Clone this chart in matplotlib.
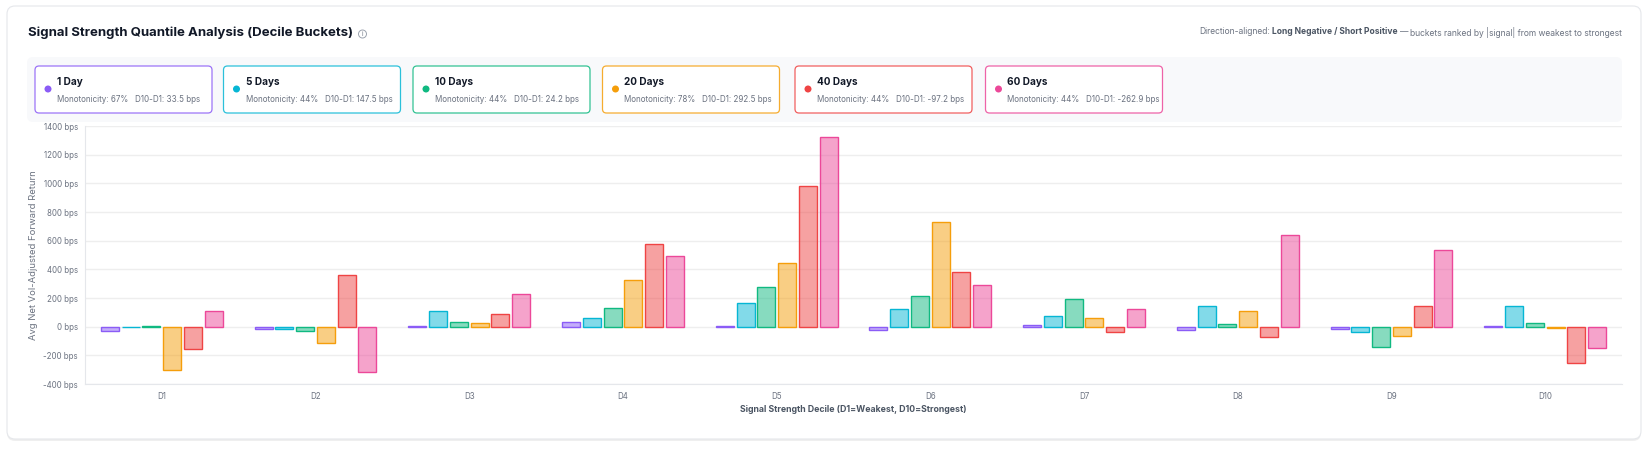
import numpy as np
import matplotlib
matplotlib.use("Agg")
import matplotlib.pyplot as plt
from matplotlib.patches import FancyBboxPatch, Circle
from matplotlib.colors import to_rgba

plt.rcParams['font.family'] = ['Inter', 'DejaVu Sans']

# data (bps)
deciles = ['D1', 'D2', 'D3', 'D4', 'D5', 'D6', 'D7', 'D8', 'D9', 'D10']
horizons = ['1 Day', '5 Days', '10 Days', '20 Days', '40 Days', '60 Days']
colors = ['#8b5cf6', '#06b6d4', '#10b981', '#f59e0b', '#ef4444', '#ec4899']
monotonicity = [67, 44, 44, 78, 44, 44]
spread = [33.5, 147.5, 24.2, 292.5, -97.2, -262.9]

ret_1d = [-28, -19, 2, 35, 3, -26, 12, -26, -19, 5]
ret_5d = [-1, -16, 112, 63, 167, 123, 77, 147, -35, 147]
ret_10d = [4, -33, 33, 133, 274, 216, 195, 16, -140, 28]
ret_20d = [-304, -112, 28, 328, 444, 730, 63, 112, -67, -12]
ret_40d = [-153, 363, 91, 575, 982, 379, -35, -72, 147, -250]
ret_60d = [109, -316, 230, 495, 1326, 291, 123, 642, 535, -151]
series = [ret_1d, ret_5d, ret_10d, ret_20d, ret_40d, ret_60d]

W, H = 1644, 450
fig = plt.figure(figsize=(W / 100, H / 100), dpi=100)
tr = fig.dpi_scale_trans


def P(x, y):
    # pixel (from top-left) -> inches
    return x / 100, (H - y) / 100


# card + shadow
shadow = FancyBboxPatch(P(7, 441), (1641 - 7) / 100, (441 - 8) / 100,
                        boxstyle="round,pad=0,rounding_size=0.08",
                        fc='#00000010', ec='none', transform=tr, zorder=-3)
card = FancyBboxPatch(P(7, 439), (1641 - 7) / 100, (439 - 6) / 100,
                      boxstyle="round,pad=0,rounding_size=0.08",
                      fc='white', ec='#e5e7eb', lw=0.8, transform=tr, zorder=-2)
fig.add_artist(shadow)
fig.add_artist(card)

# legend panel
panel = FancyBboxPatch(P(27, 122), (1622 - 27) / 100, (122 - 57) / 100,
                       boxstyle="round,pad=0,rounding_size=0.06",
                       fc='#f8f9fb', ec='none', transform=tr, zorder=-1)
fig.add_artist(panel)

box_left = [35, 223.5, 413, 602.5, 795, 985.5]
for i, name in enumerate(horizons):
    x0 = box_left[i]
    b = FancyBboxPatch(P(x0, 113), 177 / 100, 47 / 100,
                       boxstyle="round,pad=0,rounding_size=0.04",
                       fc='white', ec=to_rgba(colors[i], 0.85), lw=0.9,
                       transform=tr, zorder=0.5)
    fig.add_artist(b)
    fig.add_artist(Circle(P(x0 + 13, 89), 0.035, fc=colors[i], ec='none',
                          transform=tr, zorder=1))
    fig.text(*P(x0 + 22, 82), name, transform=tr, ha='left', va='center',
             fontsize=7.2, fontweight='bold', color='#111827')
    fig.text(*P(x0 + 22, 99),
             f"Monotonicity: {monotonicity[i]}%   D10-D1: {spread[i]} bps",
             transform=tr, ha='left', va='center', fontsize=5.8, color='#6b7280')

# title + info icon
title = fig.text(*P(27.5, 33), "Signal Strength Quantile Analysis (Decile Buckets)",
                 transform=tr, ha='left', va='center', fontsize=9.5,
                 fontweight='bold', color='#111827')
r = fig.canvas.get_renderer()
tb = title.get_window_extent(r)
ix = tb.x1 + 10
fig.add_artist(Circle(P(ix, 34), 0.04, fc='none', ec='#9ca3af', lw=0.7,
                      transform=tr, zorder=1))
fig.text(*P(ix, 34), "i", transform=tr, ha='center', va='center',
         fontsize=4.5, color='#6b7280')

# subtitle, assembled right to left
parts = [("buckets ranked by |signal| from weakest to strongest", 'normal', '#6b7280', 0),
         ("—", 'normal', '#6b7280', 2),
         ("Long Negative / Short Positive", 'bold', '#4b5563', 2),
         ("Direction-aligned:", 'normal', '#6b7280', 2)]
xr = 1622
for txt, wt, col, gap in parts:
    t = fig.text(*P(xr - gap, 32), txt, transform=tr, ha='right', va='center',
                 fontsize=6.1, fontweight=wt, color=col)
    xr = t.get_window_extent(r).x0

# chart
ax = fig.add_axes([85 / W, 66 / H, 1537 / W, 258 / H])
ax.set_facecolor('none')
x = np.arange(len(deciles))
step, bw = 0.135, 0.117
for i, vals in enumerate(series):
    ax.bar(x + (i - 2.5) * step, vals, width=bw, color=to_rgba(colors[i], 0.5),
           edgecolor=colors[i], linewidth=1.0, zorder=2)

ax.set_xlim(-0.5, 9.5)
ax.set_ylim(-400, 1400)
yt = np.arange(-400, 1401, 200)
ax.set_yticks(yt)
ax.set_yticklabels([f"{v} bps" for v in yt])
ax.set_xticks(x)
ax.set_xticklabels(deciles)
ax.yaxis.grid(True, color='#eeeeee', lw=1.0)
ax.set_axisbelow(True)
for s in ['top', 'right']:
    ax.spines[s].set_visible(False)
ax.spines['left'].set_color('#e5e7eb')
ax.spines['bottom'].set_color('#e5e7eb')
ax.tick_params(length=0, labelsize=5.7, labelcolor='#6b7280')
ax.tick_params(axis='y', pad=5)
ax.tick_params(axis='x', pad=6)

ax.set_ylabel("Avg Net Vol-Adjusted Forward Return", fontsize=6.8, color='#6b7280')
ax.yaxis.set_label_coords((34 - 85) / 1537, 0.5)
ax.yaxis.label.set_va('center')
ax.set_xlabel("Signal Strength Decile (D1=Weakest, D10=Strongest)", fontsize=6.3,
              fontweight='bold', color='#4b5563')
ax.xaxis.set_label_coords(0.5, (384 - 410) / 258)
ax.xaxis.label.set_va('center')

fig.savefig("out.png", dpi=100, facecolor='white')
